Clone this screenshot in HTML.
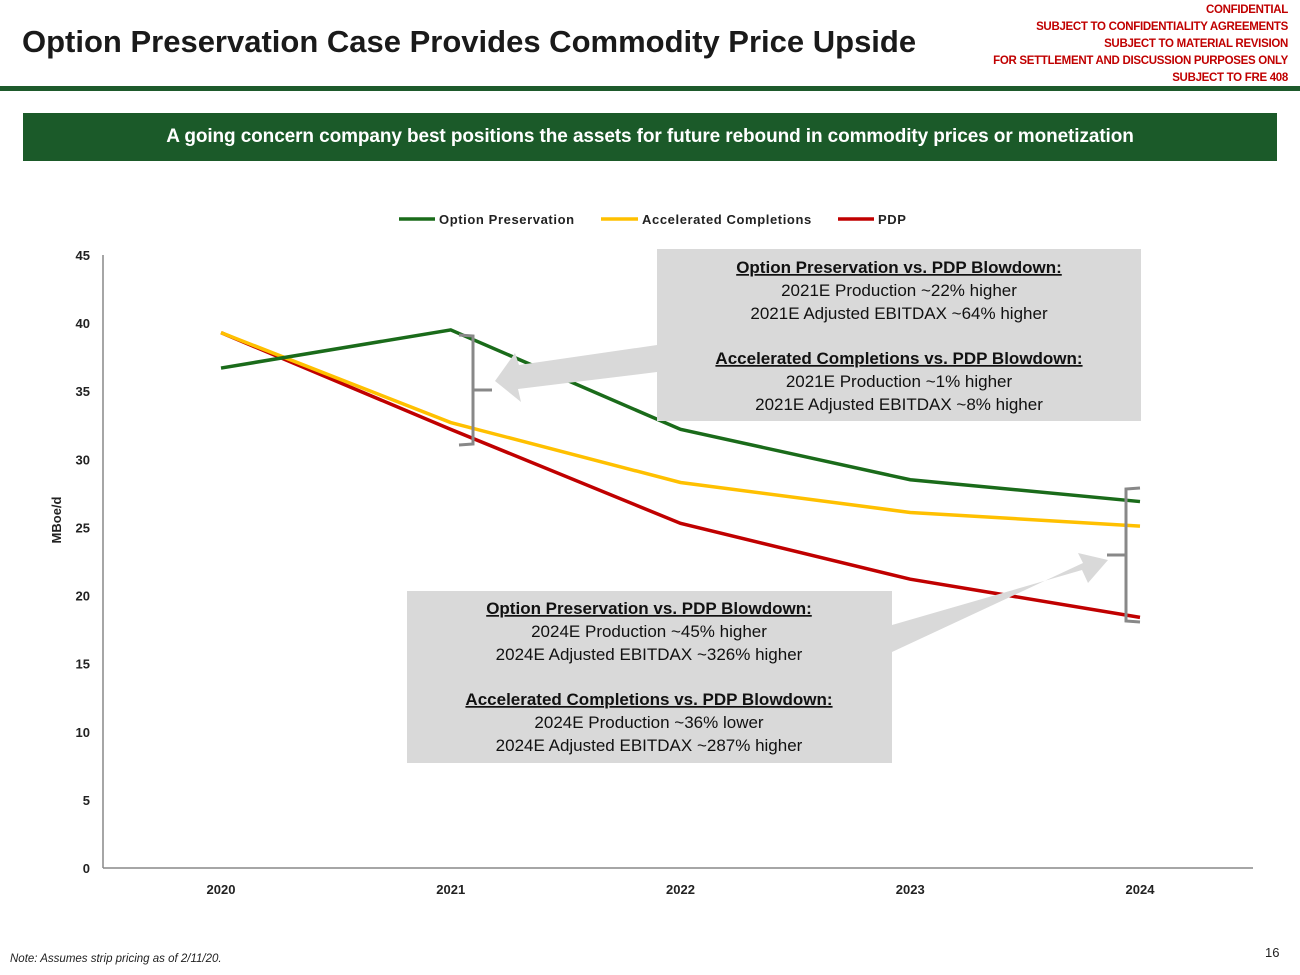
<!DOCTYPE html>
<html><head><meta charset="utf-8"><style>
body{margin:0;width:1300px;height:975px;background:#fff;font-family:"Liberation Sans",sans-serif;position:relative;overflow:hidden}
.abs{position:absolute}
</style></head><body>
<div class="abs" style="left:22px;top:24px;font-size:31px;font-weight:bold;color:#1a1a1a;letter-spacing:0px">Option Preservation Case Provides Commodity Price Upside</div>
<div class="abs" style="right:12px;top:2px;text-align:right;color:#c00000;font-size:11.5px;font-weight:bold;line-height:17px;letter-spacing:-0.3px">CONFIDENTIAL<br>SUBJECT TO CONFIDENTIALITY AGREEMENTS<br>SUBJECT TO MATERIAL REVISION<br>FOR SETTLEMENT AND DISCUSSION PURPOSES ONLY<br>SUBJECT TO FRE 408</div>
<div class="abs" style="left:0;top:86px;width:1300px;height:5px;background:#1e5a2c"></div>
<div class="abs" style="left:23px;top:113px;width:1254px;height:48px;background:#1b5a29;color:#fff;font-weight:bold;font-size:19px;text-align:center;line-height:48px;letter-spacing:-0.1px">A going concern company best positions the assets for future rebound in commodity prices or monetization</div>
<svg class="abs" style="left:0;top:0" width="1300" height="975">
<g id="axes"></g><g id="lines"></g>
<g font-size="13" font-weight="bold" fill="#222" letter-spacing="0.6">
<line x1="399" y1="219" x2="435" y2="219" stroke="#1a6b1a" stroke-width="3.5"/><text x="439" y="224">Option Preservation</text>
<line x1="601" y1="219" x2="638" y2="219" stroke="#ffc000" stroke-width="3.5"/><text x="642" y="224">Accelerated Completions</text>
<line x1="838" y1="219" x2="874" y2="219" stroke="#c00000" stroke-width="3.5"/><text x="878" y="224">PDP</text>
</g>
<text transform="translate(61,520) rotate(-90)" text-anchor="middle" font-size="13" font-weight="bold" fill="#222">MBoe/d</text>
<rect x="657" y="249" width="484" height="172" fill="#d9d9d9"/>
<rect x="407" y="591" width="485" height="172" fill="#d9d9d9"/>
<polygon fill="#d9d9d9" points="657,345 519,365 515,353 495,381 521,402 518,389 657,372"/>
<polygon fill="#d9d9d9" points="892,625 1082,570 1088,583 1108,560 1078,553 1083,563 892,652"/>
<path d="M459,335 L473,336 L473,444 L459,445 M473,390 L492,390" stroke="#888" stroke-width="3" fill="none"/>
<path d="M1140,488 L1126,489 L1126,621 L1140,622 M1126,555 L1107,555" stroke="#888" stroke-width="3" fill="none"/>
<g font-size="17" fill="#111" text-anchor="middle">
<text x="899" y="273" text-decoration="underline" font-weight="bold">Option Preservation vs. PDP Blowdown:</text>
<text x="899" y="296">2021E Production ~22% higher</text>
<text x="899" y="319">2021E Adjusted EBITDAX ~64% higher</text>
<text x="899" y="364" text-decoration="underline" font-weight="bold">Accelerated Completions vs. PDP Blowdown:</text>
<text x="899" y="387">2021E Production ~1% higher</text>
<text x="899" y="410">2021E Adjusted EBITDAX ~8% higher</text>
<text x="649" y="614" text-decoration="underline" font-weight="bold">Option Preservation vs. PDP Blowdown:</text>
<text x="649" y="637">2024E Production ~45% higher</text>
<text x="649" y="660">2024E Adjusted EBITDAX ~326% higher</text>
<text x="649" y="705" text-decoration="underline" font-weight="bold">Accelerated Completions vs. PDP Blowdown:</text>
<text x="649" y="728">2024E Production ~36% lower</text>
<text x="649" y="751">2024E Adjusted EBITDAX ~287% higher</text>
</g>
</svg>
<div class="abs" style="left:10px;top:953px;font-size:11.5px;font-style:italic;color:#222">Note: Assumes strip pricing as of 2/11/20.</div>
<div class="abs" style="left:1265px;top:945px;font-size:13px;color:#222">16</div>
<script>
const categories=["2020","2021","2022","2023","2024"];
const optionPreservation=[36.7,39.5,32.2,28.5,26.9];
const acceleratedCompletions=[39.3,32.7,28.3,26.1,25.1];
const pdp=[39.3,32.2,25.3,21.2,18.4];
const yTicks=[0,5,10,15,20,25,30,35,40,45];
const NS="http://www.w3.org/2000/svg";
const x=i=>221+i*229.75;
const y=v=>868-v*(613/45);
const axes=document.getElementById('axes');
function mk(t,a,p){const e=document.createElementNS(NS,t);for(const k in a)e.setAttribute(k,a[k]);p.appendChild(e);return e;}
const ya=mk('line',{x1:103,y1:255,x2:103,y2:868,stroke:'#888','stroke-width':1.5},axes);


const xa=mk('line',{x1:103,y1:868,x2:1253,y2:868,stroke:'#888','stroke-width':1.5},axes);


yTicks.forEach(v=>{const t=mk('text',{x:90,y:y(v)+5,'text-anchor':'end','font-size':13,'font-weight':'bold',fill:'#222'},axes);t.textContent=v;

});
categories.forEach((c,i)=>{const t=mk('text',{x:x(i),y:894,'text-anchor':'middle','font-size':13,'font-weight':'bold',fill:'#222'},axes);t.textContent=c;

});
const lines=document.getElementById('lines');
[[pdp,'#c00000','pdp-line'],[acceleratedCompletions,'#ffc000','accelerated-completions-line'],[optionPreservation,'#1a6b1a','option-preservation-line']].forEach(([d,c,n])=>{
const p=mk('polyline',{points:d.map((v,i)=>x(i)+','+y(v)).join(' '),fill:'none',stroke:c,'stroke-width':3.5},lines);

});
</script>
</body></html>
